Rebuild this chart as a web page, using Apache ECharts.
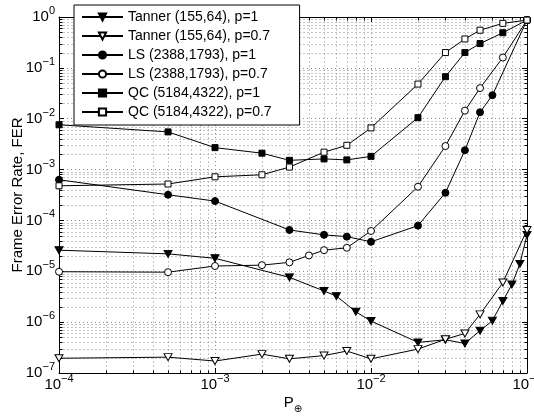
<!DOCTYPE html>
<html>
<head>
<meta charset="utf-8">
<script src="https://cdn.jsdelivr.net/npm/echarts@6/dist/echarts.min.js"></script>
<style>
html, body { margin: 0; padding: 0; background: #fff; }
#chart { width: 534px; height: 419px; }
</style>
</head>
<body>
<div id="chart"></div>
<script>
// ---- data -------------------------------------------------------------
const xTickExponents = [-4, -3, -2, -1];
const yTickExponents = [-7, -6, -5, -4, -3, -2, -1, 0];

const seriesNames = [
  'Tanner (155,64), p=1',
  'Tanner (155,64), p=0.7',
  'LS (2388,1793), p=1',
  'LS (2388,1793), p=0.7',
  'QC (5184,4322), p=1',
  'QC (5184,4322), p=0.7'
];

const tannerP1X = [1e-4, 5e-4, 1e-3, 3e-3, 5e-3, 6e-3, 8e-3, 1e-2, 2e-2, 3e-2, 4e-2, 5e-2, 6e-2, 7e-2, 8e-2, 9e-2, 1e-1];
const tannerP1Y = [2.6e-5, 2.2e-5, 1.8e-5, 7.6e-6, 4.1e-6, 3.25e-6, 1.6e-6, 1.05e-6, 4.0e-7, 4.5e-7, 3.8e-7, 6.8e-7, 1.07e-6, 2.6e-6, 5.5e-6, 1.4e-5, 5.2e-5];

const tannerP07X = [1e-4, 5e-4, 1e-3, 2e-3, 3e-3, 5e-3, 7e-3, 1e-2, 2e-2, 3e-2, 4e-2, 5e-2, 7e-2, 1e-1];
const tannerP07Y = [1.95e-7, 2.05e-7, 1.72e-7, 2.35e-7, 1.9e-7, 2.2e-7, 2.7e-7, 1.9e-7, 2.95e-7, 4.6e-7, 6.0e-7, 1.42e-6, 6.0e-6, 6.5e-5];

const lsP1X = [1e-4, 5e-4, 1e-3, 3e-3, 5e-3, 7e-3, 1e-2, 2e-2, 3e-2, 4e-2, 5e-2, 6e-2, 1e-1];
const lsP1Y = [6.3e-4, 3.2e-4, 2.4e-4, 6.5e-5, 5.2e-5, 4.8e-5, 3.8e-5, 7.9e-5, 3.5e-4, 2.4e-3, 1.34e-2, 2.9e-2, 0.87];

const lsP07X = [1e-4, 5e-4, 1e-3, 2e-3, 3e-3, 4e-3, 5e-3, 7e-3, 1e-2, 2e-2, 3e-2, 4e-2, 5e-2, 7e-2, 1e-1];
const lsP07Y = [9.8e-6, 9.6e-6, 1.27e-5, 1.32e-5, 1.5e-5, 2.05e-5, 2.6e-5, 2.9e-5, 6.2e-5, 4.6e-4, 2.9e-3, 1.44e-2, 4.0e-2, 0.16, 0.87];

const qcP1X = [1e-4, 5e-4, 1e-3, 2e-3, 3e-3, 5e-3, 7e-3, 1e-2, 2e-2, 3e-2, 4e-2, 5e-2, 7e-2, 1e-1];
const qcP1Y = [7.6e-3, 5.5e-3, 2.7e-3, 2.1e-3, 1.52e-3, 1.62e-3, 1.55e-3, 1.82e-3, 1.05e-2, 6.7e-2, 0.2, 0.30, 0.49, 0.87];

const qcP07X = [1e-4, 5e-4, 1e-3, 2e-3, 3e-3, 5e-3, 7e-3, 1e-2, 2e-2, 3e-2, 4e-2, 5e-2, 7e-2, 1e-1];
const qcP07Y = [4.8e-4, 5.2e-4, 7.2e-4, 7.9e-4, 1.12e-3, 2.2e-3, 3.0e-3, 6.6e-3, 4.8e-2, 0.2, 0.37, 0.55, 0.75, 0.87];

// ---- styling ----------------------------------------------------------
const FONT = '"Liberation Sans", Arial, Helvetica, sans-serif';
const GRID_COLOR = '#8c8c8c';
const GRID_DASH = [1, 3];

const markerStyles = [
  { x: tannerP1X,  y: tannerP1Y,  symbol: 'triangle', rotate: 180, filled: true,  size: [8, 7] },
  { x: tannerP07X, y: tannerP07Y, symbol: 'triangle', rotate: 180, filled: false, size: [8, 7] },
  { x: lsP1X,      y: lsP1Y,      symbol: 'circle',   rotate: 0,   filled: true,  size: 7 },
  { x: lsP07X,     y: lsP07Y,     symbol: 'circle',   rotate: 0,   filled: false, size: 7 },
  { x: qcP1X,      y: qcP1Y,      symbol: 'rect',     rotate: 0,   filled: true,  size: 6 },
  { x: qcP07X,     y: qcP07Y,     symbol: 'rect',     rotate: 0,   filled: false, size: 6 }
];

function toPairs(xs, ys) { return xs.map((x, i) => [x, ys[i]]); }

const series = markerStyles.map((m, i) => ({
  type: 'line',
  name: seriesNames[i],
  data: toPairs(m.x, m.y),
  xAxisIndex: 0,
  yAxisIndex: 0,
  symbol: m.symbol,
  symbolSize: m.size,
  symbolRotate: m.rotate,
  showSymbol: true,
  showAllSymbol: true,
  clip: false,
  animation: false,
  z: 2,
  lineStyle: { color: '#000', width: 1 },
  itemStyle: { color: m.filled ? '#000' : '#fff', borderColor: '#000', borderWidth: 1 },
  emphasis: { disabled: true }
}));

function powerLabel(value) {
  const e = Math.round(Math.log10(value));
  const exp = e < 0 ? '\u2212' + (-e) : String(e);
  return '{b|10}{s|' + exp + '}';
}

const tickRich = {
  b: { fontSize: 15, lineHeight: 15, fontFamily: FONT, color: '#000', verticalAlign: 'bottom' },
  s: { fontSize: 11, lineHeight: 11, fontFamily: FONT, color: '#000', verticalAlign: 'bottom', padding: [0, 0, 8, 0] }
};

function logAxis(exps, show) {
  const ax = {
    type: 'log',
    logBase: 10,
    min: Math.pow(10, exps[0]),
    max: Math.pow(10, exps[exps.length - 1]),
    interval: 1,
    axisLine: { show: true, onZero: false, lineStyle: { color: '#000', width: 1 } },
    axisTick: { show: true, inside: true, length: 5, lineStyle: { color: '#000', width: 1 } },
    minorTick: { show: false },
    splitLine: { show: false },
    axisLabel: { show: false },
    z: 0
  };
  if (show) {
    ax.splitLine = { show: true, lineStyle: { color: GRID_COLOR, width: 1, type: GRID_DASH } };
    ax.axisLabel = {
      show: true,
      formatter: powerLabel,
      rich: tickRich,
      margin: 4,
      showMinLabel: true,
      showMaxLabel: true,
      hideOverlap: false
    };
  }
  return ax;
}

const xMain = Object.assign(logAxis(xTickExponents, true), {
  position: 'bottom',
  name: '{p|P}{q|\u2295}',
  nameLocation: 'middle',
  nameGap: 22,
  nameMoveOverlap: false,
  nameTextStyle: {
    rich: {
      p: { fontSize: 15, lineHeight: 15, fontFamily: FONT, color: '#000', verticalAlign: 'top' },
      q: { fontSize: 10, lineHeight: 10, fontFamily: '"DejaVu Sans", sans-serif', color: '#000', verticalAlign: 'top', padding: [9, 0, 0, 0] }
    }
  }
});
const xTop = Object.assign(logAxis(xTickExponents, false), { position: 'top' });

const yMain = Object.assign(logAxis(yTickExponents, true), {
  position: 'left',
  name: 'Frame Error Rate, FER',
  nameLocation: 'middle',
  nameGap: 34,
  nameMoveOverlap: false,
  nameRotate: 90,
  nameTextStyle: { fontSize: 15, fontFamily: FONT, color: '#000' }
});
const yRight = Object.assign(logAxis(yTickExponents, false), { position: 'right' });

const chart = echarts.init(document.getElementById('chart'), null, { renderer: 'canvas' });

chart.setOption({
  animation: false,
  backgroundColor: '#fff',
  grid: { left: 59, right: 7, top: 17, bottom: 46, containLabel: false, outerBoundsMode: 'none' },
  xAxis: [xMain, xTop],
  yAxis: [yMain, yRight],
  legend: {
    orient: 'vertical',
    left: 74,
    top: 5,
    z: 20,
    padding: [5, 28, 6, 7],
    itemGap: 5,
    itemWidth: 41,
    itemHeight: 9,
    backgroundColor: '#fff',
    borderColor: '#000',
    borderWidth: 1,
    borderRadius: 0,
    selectedMode: false,
    textStyle: { fontSize: 14, fontFamily: FONT, color: '#000' },
    data: seriesNames
  },
  series: series
});

// Minor decade grid lines and minor ticks (2..9 within each decade)
function minorValues(exps) {
  const out = [];
  for (let k = 0; k < exps.length - 1; k++) {
    for (let m = 2; m <= 9; m++) out.push(m * Math.pow(10, exps[k]));
  }
  return out;
}

const plotRect = chart.getModel().getComponent('grid').coordinateSystem.getRect();
const plotLeft = Math.round(plotRect.x) + 0.5;
const plotRight = Math.round(plotRect.x + plotRect.width) + 0.5;
const plotTop = Math.round(plotRect.y) + 0.5;
const plotBottom = Math.round(plotRect.y + plotRect.height) + 0.5;
const MINOR_LEN = 3;
const gridStyle = { stroke: GRID_COLOR, lineWidth: 1, lineDash: GRID_DASH };
const tickStyle = { stroke: '#000', lineWidth: 1 };
const elements = [];

minorValues(xTickExponents).forEach(v => {
  const px = Math.round(chart.convertToPixel({ xAxisIndex: 0 }, v)) + 0.5;
  elements.push({ type: 'line', silent: true, z: 0, shape: { x1: px, y1: plotTop, x2: px, y2: plotBottom }, style: gridStyle });
  elements.push({ type: 'line', silent: true, z: 0, shape: { x1: px, y1: plotBottom, x2: px, y2: plotBottom - MINOR_LEN }, style: tickStyle });
  elements.push({ type: 'line', silent: true, z: 0, shape: { x1: px, y1: plotTop, x2: px, y2: plotTop + MINOR_LEN }, style: tickStyle });
});
minorValues(yTickExponents).forEach(v => {
  const py = Math.round(chart.convertToPixel({ yAxisIndex: 0 }, v)) + 0.5;
  elements.push({ type: 'line', silent: true, z: 0, shape: { x1: plotLeft, y1: py, x2: plotRight, y2: py }, style: gridStyle });
  elements.push({ type: 'line', silent: true, z: 0, shape: { x1: plotLeft, y1: py, x2: plotLeft + MINOR_LEN, y2: py }, style: tickStyle });
  elements.push({ type: 'line', silent: true, z: 0, shape: { x1: plotRight, y1: py, x2: plotRight - MINOR_LEN, y2: py }, style: tickStyle });
});

chart.setOption({ graphic: { z: 0, zlevel: 0, elements: elements } });
</script>
</body>
</html>
